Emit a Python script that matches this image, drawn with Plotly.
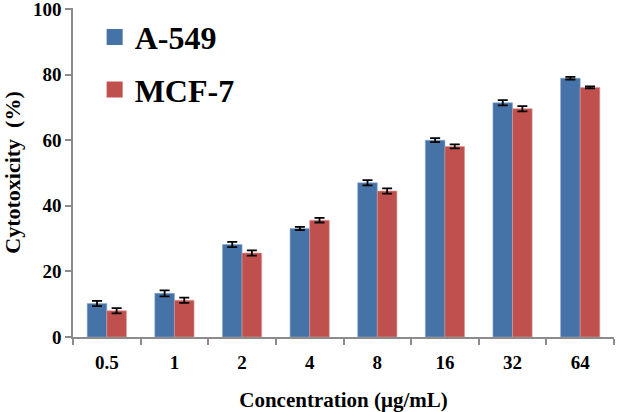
import plotly.graph_objects as go

categories = ["0.5", "1", "2", "4", "8", "16", "32", "64"]
a549 = [10.2, 13.3, 28.2, 33.1, 47.0, 60.0, 71.4, 78.9]
a549_err = [0.8, 0.9, 0.8, 0.5, 0.8, 0.6, 0.8, 0.4]
mcf7 = [8.0, 11.2, 25.6, 35.6, 44.5, 58.1, 69.6, 76.1]
mcf7_err = [0.8, 0.8, 0.8, 0.7, 0.8, 0.6, 0.8, 0.3]
y_ticks = [0, 20, 40, 60, 80, 100]

font_family = "Liberation Serif, Times New Roman, serif"
blue = "#4572A7"
red = "#C0504D"

fig = go.Figure()
fig.add_trace(go.Bar(
    name="A-549", x=categories, y=a549, showlegend=False,
    marker=dict(color=blue, line=dict(color="#8EA9CF", width=0.6)),
    error_y=dict(type="data", array=a549_err, color="black", thickness=1.8, width=5),
))
fig.add_trace(go.Bar(
    name="MCF-7", x=categories, y=mcf7, showlegend=False,
    marker=dict(color=red, line=dict(color="#D99A98", width=0.6)),
    error_y=dict(type="data", array=mcf7_err, color="black", thickness=1.8, width=5),
))
# legend entries with large square swatches
for nm, col in [("A-549", blue), ("MCF-7", red)]:
    fig.add_trace(go.Scatter(
        x=[None], y=[None], mode="markers", name=nm, legendgroup=nm,
        marker=dict(symbol="square", size=16, color=col),
    ))

fig.update_layout(
    width=617, height=412,
    margin=dict(l=73, r=3, t=8, b=75),
    paper_bgcolor="white", plot_bgcolor="white",
    barmode="group", bargap=0.42, bargroupgap=0,
    font=dict(family=font_family, color="black"),
    showlegend=True,
    legend=dict(
        x=0.04, y=0.995, xanchor="left", yanchor="top",
        font=dict(size=32, family=font_family, color="black", weight="bold"),
        bgcolor="rgba(0,0,0,0)", itemsizing="trace", tracegroupgap=8,
        itemwidth=30,
    ),
    xaxis=dict(
        type="category", automargin=False,
        showline=True, linecolor="#8c8c8c", linewidth=1.5,
        ticks="outside", tickson="boundaries", ticklen=6, tickcolor="#8c8c8c", tickwidth=1.5,
        ticklabelstandoff=7,
        tickfont=dict(size=19, family=font_family, color="black", weight="bold"),
        title=dict(text="Concentration (μg/mL)", standoff=26,
                   font=dict(size=21, family=font_family, color="black", weight="bold")),
        showgrid=False, zeroline=False,
    ),
    yaxis=dict(
        range=[0, 100.3], tickvals=y_ticks, automargin=False,
        ticklabeloverflow="allow",
        showline=True, linecolor="#8c8c8c", linewidth=1.5,
        ticks="outside", ticklen=6, tickcolor="#8c8c8c", tickwidth=1.5,
        tickfont=dict(size=19, family=font_family, color="black", weight="bold"),
        title=dict(text="Cytotoxicity  (%)", standoff=17,
                   font=dict(size=22, family=font_family, color="black", weight="bold")),
        showgrid=False, zeroline=False,
    ),
)

fig.write_html("out.html", config={"displayModeBar": False},
               post_script="document.body.style.margin='0';")
